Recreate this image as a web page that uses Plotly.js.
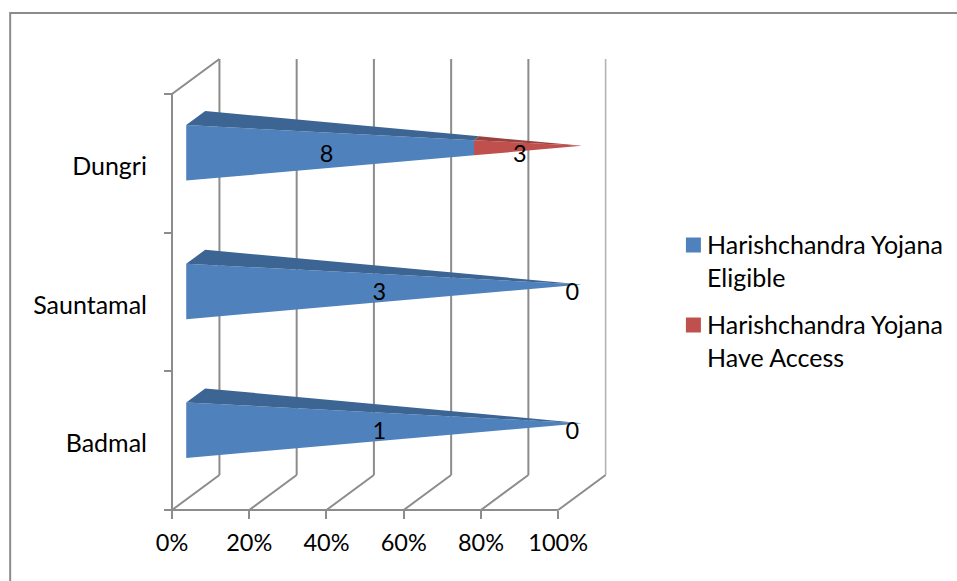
<!DOCTYPE html>
<html>
<head>
<meta charset="utf-8">
<script src="https://cdn.plot.ly/plotly-3.0.1.min.js"></script>
<style>html,body{margin:0;padding:0;background:#fff;overflow:hidden}#chart{width:957px;height:581px}</style>
</head>
<body>
<div id="chart"></div>
<script>
// Stacked 100% pyramid chart with an oblique 3D box around it.
const categories = ["Badmal", "Sauntamal", "Dungri"];
const eligible = [1, 3, 8];
const haveAccess = [0, 0, 3];
const percentTicks = [0, 20, 40, 60, 80, 100];
const legendRows = [
  {y: 245, color: "#4f81bd", lines: ["Harishchandra Yojana", "Eligible"]},
  {y: 325, color: "#c0504d", lines: ["Harishchandra Yojana", "Have Access"]}
];

const W = 957, H = 581;
const pad = 6;                                  // room around the box so its lines are not clipped
const originX = 171.5, originY = 510;           // pixel position of 0% on the floor's front edge
const plotLeft = originX - pad, plotRight = 612, plotTop = 52, plotBottom = originY + pad;
const pxPerPct = 3.866, pxPerCat = 138.67;
const depthX = 47.5 / pxPerPct, depthY = 35 / pxPerCat;   // oblique depth in axis units
const halfHeight = 0.2, zFront = 0.3, zBack = 0.7;
const FONT = "Lato, sans-serif", INK = "#000000", GRID = "#8c8c8c";
const FS_TICK = 23.5, FS_CAT = 25, FS_LEGEND = 25, FS_VALUE = 23.5;

// Oblique projection: depth z (0 front .. 1 back) shifts a point along both axes.
const proj = (pct, y, z) => [pct + z * depthX, y + z * depthY];

// A point on the pyramid's edge at share s of its length; the pyramid tapers to a tip at 100%.
function corner(cat, s, side, z) {
  const t = s / 100;
  return proj(s, cat + 0.5 + side * halfHeight * (1 - t), z + (0.5 - z) * t);
}
function addPoly(tr, pts) {
  pts.concat([pts[0]]).forEach(p => { tr.x.push(p[0]); tr.y.push(p[1]); });
  tr.x.push(null); tr.y.push(null);
}
function poly(color) {
  return {type: "scatter", mode: "lines", fill: "toself", fillcolor: color, x: [], y: [],
          line: {width: 0, color: color}, hoverinfo: "skip", showlegend: false};
}
const frontA = poly("#4f81bd"), topA = poly("#3c6594");
const frontB = poly("#c0504d"), topB = poly("#9a403e");

const labelX = [], labelY = [], labelText = [];
const valueDrop = 2.8 / pxPerCat;
categories.forEach((_, i) => {
  const total = eligible[i] + haveAccess[i];
  const split = 100 * eligible[i] / total;
  [[0, split, frontA, topA], [split, 100, frontB, topB]].forEach(([s0, s1, fr, tp]) => {
    addPoly(fr, [corner(i, s0, -1, zFront), corner(i, s0, 1, zFront),
                 corner(i, s1, 1, zFront), corner(i, s1, -1, zFront)]);
    addPoly(tp, [corner(i, s0, 1, zFront), corner(i, s0, 1, zBack),
                 corner(i, s1, 1, zBack), corner(i, s1, 1, zFront)]);
  });
  // Value labels sit mid-segment on the front plane of the bar.
  [[eligible[i], split / 2], [haveAccess[i], (split + 100) / 2]].forEach(([v, mid]) => {
    const p = proj(mid, i + 0.5, zFront);
    labelX.push(p[0]); labelY.push(p[1] - valueDrop); labelText.push(String(v));
  });
});

// Walls and floor of the box, expressed in axis units.
function boxLine(color, width, segments) {
  const t = {type: "scatter", mode: "lines", x: [], y: [], hoverinfo: "skip", showlegend: false,
             line: {color: color, width: width}};
  segments.forEach(seg => {
    seg.forEach(p => { t.x.push(p[0]); t.y.push(p[1]); });
    t.x.push(null); t.y.push(null);
  });
  return t;
}
const nCat = categories.length;
const wallSegs = [];
percentTicks.slice(0, -1).forEach(p => wallSegs.push([proj(p, 0, 1), proj(p, nCat, 1)]));
percentTicks.forEach(p => wallSegs.push([proj(p, 0, 0), proj(p, 0, 1)]));
wallSegs.push([proj(0, 0, 0), proj(0, nCat, 0), proj(0, nCat, 1)]);
wallSegs.push([proj(0, 0, 0), proj(100, 0, 0)]);
const box = boxLine(GRID, 2, wallSegs);
const lastWall = boxLine("#b4b4b4", 1.6, [[proj(100, 0, 1), proj(100, nCat, 1)]]);

const labels = {type: "scatter", mode: "text", x: labelX, y: labelY, text: labelText,
                textposition: "middle center", textfont: {family: FONT, size: FS_VALUE, color: INK},
                hoverinfo: "skip", showlegend: false, cliponaxis: false};

// Empty trace that keeps the category-label axis alive.
const catAxisHolder = {type: "scatter", x: [null], y: [null], yaxis: "y2", showlegend: false, hoverinfo: "skip"};

const plotW = plotRight - plotLeft, plotH = plotBottom - plotTop;
const paperX = px => (px - plotLeft) / plotW;
const paperY = py => (plotBottom - py) / plotH;
const xRange = [-pad / pxPerPct, (plotRight - originX) / pxPerPct];
const yRange = [-pad / pxPerCat, (originY - plotTop) / pxPerCat];

// Outer border runs off the right and bottom edges of the page.
const shapes = [{type: "rect", xref: "paper", yref: "paper", layer: "below",
                 x0: paperX(9.5), x1: paperX(W + 20), y0: paperY(13), y1: paperY(H + 20),
                 line: {color: GRID, width: 2}, fillcolor: "rgba(0,0,0,0)"}];
const annotations = [];
legendRows.forEach(r => {
  shapes.push({type: "rect", xref: "paper", yref: "paper", x0: paperX(686), x1: paperX(701),
               y0: paperY(r.y + 7.5), y1: paperY(r.y - 7.5), fillcolor: r.color, line: {width: 0}});
  r.lines.forEach((txt, k) => annotations.push({
    xref: "paper", yref: "paper", x: paperX(705), y: paperY(r.y - 1 + k * 33), xanchor: "left", yanchor: "middle",
    text: txt, showarrow: false, font: {family: FONT, size: FS_LEGEND, color: INK}
  }));
});

const layout = {
  width: W, height: H, showlegend: false, paper_bgcolor: "#fff", plot_bgcolor: "rgba(0,0,0,0)",
  margin: {l: plotLeft, r: W - plotRight, t: plotTop, b: H - plotBottom, pad: 0, autoexpand: false},
  xaxis: {range: xRange, anchor: "free", position: paperY(originY), tickmode: "array", tickvals: percentTicks,
          ticktext: percentTicks.map(p => p + "%"), ticks: "outside", ticklen: 8, tickwidth: 2,
          ticklabelstandoff: 4, tickcolor: GRID, showgrid: false, zeroline: false, showline: false,
          fixedrange: true, tickfont: {family: FONT, size: FS_TICK, color: INK}},
  yaxis: {range: yRange, anchor: "free", position: paperX(originX), tickmode: "array", tickvals: [0, 1, 2, 3],
          ticktext: ["", "", "", ""], ticks: "outside", ticklen: 8, tickwidth: 2, tickcolor: GRID,
          showgrid: false, zeroline: false, showline: false, fixedrange: true},
  yaxis2: {overlaying: "y", side: "left", anchor: "free", position: paperX(originX), range: yRange, tickmode: "array",
           tickvals: categories.map((_, i) => i + 0.48), ticktext: categories, ticks: "outside",
           ticklen: 20, tickcolor: "rgba(0,0,0,0)", showgrid: false, zeroline: false, showline: false,
           fixedrange: true, tickfont: {family: FONT, size: FS_CAT, color: INK}},
  shapes: shapes, annotations: annotations
};

Plotly.newPlot("chart", [box, lastWall, frontA, topA, frontB, topB, labels, catAxisHolder], layout,
               {displayModeBar: false, staticPlot: true});
</script>
</body>
</html>
